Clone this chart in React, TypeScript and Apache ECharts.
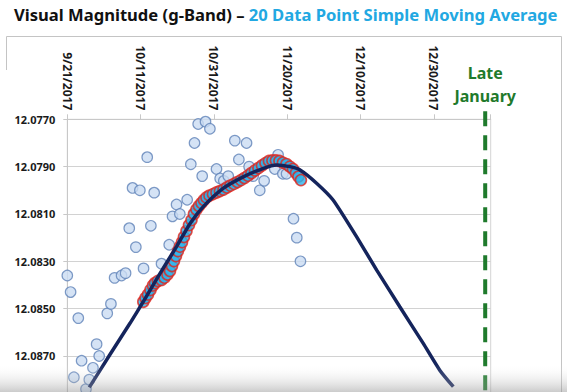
import React, { useEffect, useRef } from 'react';
import * as echarts from 'echarts';

// x values are days since 9/21/2017
const xTickLabels = ['9/21/2017', '10/11/2017', '10/31/2017', '11/20/2017', '12/10/2017', '12/30/2017'];
const X_MIN = 0;
const X_MAX = 115.5;
const X_STEP = 20;
const Y_MIN = 12.077;
const Y_MAX = 12.089;
const Y_STEP = 0.002;
const LATE_JAN_DAY = 114;
const lateJanuaryText = ['Late', 'January'];

const obsDays = [0, 0.9, 3.0, 1.8, 3.9, 5.1, 6.0, 7.0, 8.0, 8.7, 10.9, 11.9, 12.9, 14.8, 15.9, 16.9, 17.8, 18.7, 19.8, 20.8, 21.8, 22.8, 23.7, 25.7, 27.8, 28.7, 29.8, 30.7, 32.7, 33.7, 34.7, 35.7, 37.7, 38.9, 36.8, 40.7, 41.7, 42.7, 43.9, 45.7, 48.9, 46.8, 49.6, 50.7, 52.5, 53.7, 57.5, 56.6, 58.8, 59.8, 61.7, 62.6, 63.6];
const obsMag = [12.0836, 12.0843, 12.0854, 12.0879, 12.0872, 12.0884, 12.0880, 12.0875, 12.0865, 12.0870, 12.0852, 12.0848, 12.0837, 12.0836, 12.0835, 12.0816, 12.0799, 12.0824, 12.0800, 12.0833, 12.0786, 12.0815, 12.0801, 12.0831, 12.0823, 12.0811, 12.0806, 12.0810, 12.0804, 12.0789, 12.0780, 12.0772, 12.0771, 12.0774, 12.0794, 12.0791, 12.0795, 12.0796, 12.0794, 12.0779, 12.0780, 12.0787, 12.0790, 12.0794, 12.0800, 12.0796, 12.0785, 12.0791, 12.0793, 12.0793, 12.0812, 12.0820, 12.0830];

const smaDays = [20.73, 21.33, 22.01, 22.69, 23.37, 23.92, 24.73, 25.69, 26.51, 27.32, 28.01, 28.55, 29.10, 29.64, 30.19, 30.73, 31.28, 31.82, 32.51, 33.19, 33.87, 34.55, 35.23, 35.91, 36.60, 37.28, 37.96, 38.78, 39.73, 40.69, 41.64, 42.60, 43.55, 44.50, 45.46, 46.41, 47.37, 48.32, 49.28, 50.23, 51.19, 52.14, 53.10, 54.05, 55.00, 55.96, 56.91, 57.87, 58.82, 59.78, 60.73, 61.55, 62.37, 63.05, 63.73];
const smaMag = [12.08471, 12.08455, 12.08440, 12.08421, 12.08402, 12.08392, 12.08383, 12.08379, 12.08369, 12.08356, 12.08341, 12.08320, 12.08299, 12.08278, 12.08257, 12.08238, 12.08219, 12.08197, 12.08172, 12.08147, 12.08126, 12.08100, 12.08081, 12.08066, 12.08054, 12.08041, 12.08030, 12.08022, 12.08016, 12.08009, 12.08003, 12.07997, 12.07988, 12.07980, 12.07973, 12.07965, 12.07957, 12.07948, 12.07938, 12.07927, 12.07916, 12.07906, 12.07895, 12.07885, 12.07876, 12.07874, 12.07874, 12.07876, 12.07883, 12.07889, 12.07900, 12.07910, 12.07927, 12.07942, 12.07957];

const trendDays = [6.0, 11.6, 17.1, 20.7, 25.3, 29.8, 33.5, 37.1, 42.5, 48.0, 53.5, 57.1, 60.7, 63.5, 68.0, 72.5, 78.9, 84.4, 90.7, 97.1, 101.6, 105.3];
const trendMag = [12.08833, 12.08695, 12.08562, 12.08471, 12.08351, 12.08238, 12.08140, 12.08069, 12.07992, 12.07943, 12.07907, 12.07893, 12.07900, 12.07914, 12.07970, 12.08041, 12.08196, 12.08337, 12.08492, 12.08647, 12.08760, 12.08830];

const FONT = '"Noto Sans", sans-serif';
const GREEN = '#1f7a2c';

export default function App() {
  const ref = useRef<HTMLDivElement>(null);
  useEffect(() => {
    document.body.style.margin = '0';
    const chart = echarts.init(ref.current!, null, { renderer: 'svg' });
    const obs = obsDays.map((d, i) => [d, obsMag[i]]);
    const sma = smaDays.map((d, i) => [d, smaMag[i]]);
    const trend = trendDays.map((d, i) => [d, trendMag[i]]);
    chart.setOption({
      animation: false,
      backgroundColor: '#ffffff',
      title: {
        text: '{a|Visual Magnitude (g-Band) – }{b|20 Data Point Simple Moving Average}',
        left: 9,
        top: 1,
        textStyle: {
          rich: {
            a: { fontFamily: FONT, fontWeight: 'bold', fontSize: 16.6, color: '#111111' },
            b: { fontFamily: FONT, fontWeight: 'bold', fontSize: 16.6, color: '#22a8e2' },
          },
        },
      },
      grid: {
        left: 67.3,
        top: 119.3,
        width: 490.7 - 67.3,
        height: 284,
        outerBoundsMode: 'none',
        containLabel: false,
        show: true,
        borderColor: '#d4d4d4',
        borderWidth: 1,
        backgroundColor: 'transparent',
      },
      xAxis: {
        type: 'value',
        position: 'top',
        min: X_MIN,
        max: X_MAX,
        interval: X_STEP,
        axisLine: { show: true, lineStyle: { color: '#c8c8c8', width: 1 } },
        axisTick: { show: true, length: 5, lineStyle: { color: '#c8c8c8' } },
        splitLine: { show: false },
        axisLabel: {
          rotate: 90,
          margin: 9,
          fontFamily: FONT,
          fontWeight: 'bold',
          fontSize: 12,
          color: '#1a1a1a',
          formatter: (v: number) => {
            const i = Math.round(v / X_STEP);
            return Math.abs(v - i * X_STEP) < 1e-6 && xTickLabels[i] ? xTickLabels[i] : '';
          },
        },
      },
      yAxis: {
        type: 'value',
        inverse: true,
        min: Y_MIN,
        max: Y_MAX,
        interval: Y_STEP,
        axisLine: { show: true, lineStyle: { color: '#c8c8c8', width: 1 } },
        axisTick: { show: true, length: 4, lineStyle: { color: '#c8c8c8' } },
        splitLine: { show: true, lineStyle: { color: '#d2d2d2', width: 1 } },
        axisLabel: {
          margin: 12,
          showMaxLabel: false,
          fontFamily: FONT,
          fontWeight: 'bold',
          fontSize: 11,
          color: '#1a1a1a',
          formatter: (v: number) => (Math.abs(v - Y_MAX) < 1e-7 ? '' : v.toFixed(4)),
        },
      },
      series: [
        {
          name: 'Observed',
          type: 'scatter',
          data: obs,
          symbol: 'circle',
          symbolSize: 10.5,
          clip: false,
          itemStyle: { color: '#cadcf3', borderColor: '#5f82b8', borderWidth: 1.2 },
          z: 2,
        },
        {
          name: '20 Point SMA',
          type: 'scatter',
          data: sma,
          symbol: 'circle',
          symbolSize: 11,
          clip: false,
          itemStyle: { color: '#2ab4ec', borderColor: '#e0241b', borderWidth: 1.6 },
          z: 3,
        },
        {
          name: 'Trend',
          type: 'line',
          data: trend,
          smooth: 0.2,
          symbol: 'none',
          clip: false,
          lineStyle: { color: '#14245c', width: 3.5 },
          z: 4,
        },
      ],
    });
    const top = chart.convertToPixel({ gridIndex: 0 }, [LATE_JAN_DAY, Y_MIN]) as number[];
    chart.setOption({
      graphic: [
        {
          type: 'polyline',
          silent: true,
          shape: { points: [[6.5, 70], [6.5, 36.5], [561.5, 36.5], [561.5, 400]] },
          style: { stroke: '#c4c4c4', lineWidth: 1, fill: null },
          z: 1,
        },
        {
          type: 'line',
          silent: true,
          shape: { x1: top[0], y1: top[1] - 8, x2: top[0], y2: 400 },
          style: { stroke: GREEN, lineWidth: 4, lineDash: [15, 9] },
          z: 10,
        },
        {
          type: 'text',
          silent: true,
          x: top[0],
          y: top[1] - 46,
          style: {
            text: lateJanuaryText[0],
            fontFamily: FONT,
            fontWeight: 'bold',
            fontSize: 16,
            fill: GREEN,
            align: 'center',
            verticalAlign: 'middle',
          },
          z: 10,
        },
        {
          type: 'text',
          silent: true,
          x: top[0],
          y: top[1] - 23,
          style: {
            text: lateJanuaryText[1],
            fontFamily: FONT,
            fontWeight: 'bold',
            fontSize: 16,
            fill: GREEN,
            align: 'center',
            verticalAlign: 'middle',
          },
          z: 10,
        },
        {
          type: 'rect',
          silent: true,
          shape: { x: 0, y: 364, width: 567, height: 28 },
          style: {
            fill: new echarts.graphic.LinearGradient(0, 0, 0, 1, [
              { offset: 0, color: 'rgba(255,255,255,0)' },
              { offset: 1, color: 'rgba(140,140,140,0.45)' },
            ]),
          },
          z: 20,
        },
      ],
    });
    return () => chart.dispose();
  }, []);
  return <div ref={ref} style={{ position: 'fixed', left: 0, top: 0, width: 567, height: 392 }} />;
}
